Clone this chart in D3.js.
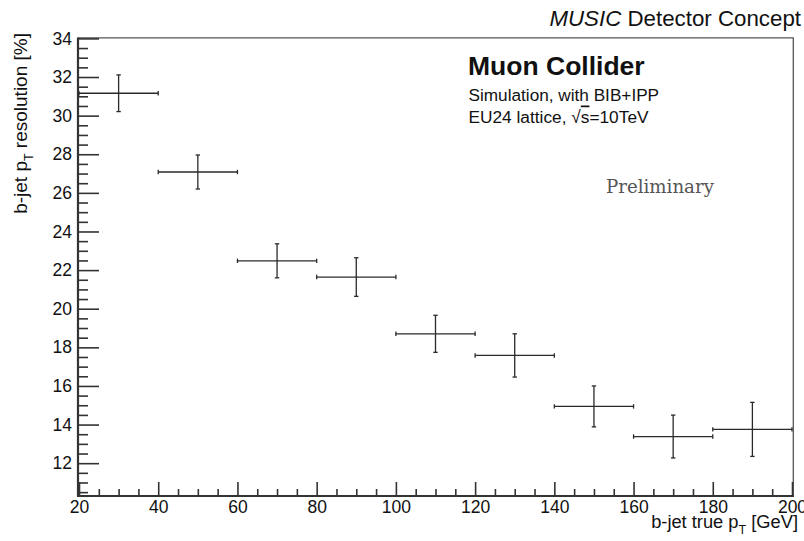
<!DOCTYPE html>
<html>
<head>
<meta charset="utf-8">
<script src="https://cdn.jsdelivr.net/npm/d3@7"></script>
<style>
  html, body { margin: 0; padding: 0; background: #fff; }
  svg { display: block; }
  text { font-family: "Liberation Sans", Arial, Helvetica, sans-serif; fill: #111; }
</style>
</head>
<body>
<svg id="chart" width="804" height="541"></svg>
<script>
// ---- data ----
const binCenters = [30, 50, 70, 90, 110, 130, 150, 170, 190];
const binHalfWidths = [10, 10, 10, 10, 10, 10, 10, 10, 10];
const resolution = [31.16, 27.08, 22.48, 21.64, 18.70, 17.58, 14.94, 13.38, 13.75];
const resolutionErr = [0.95, 0.88, 0.88, 1.00, 0.96, 1.12, 1.06, 1.11, 1.40];
const xMajorTicks = [20, 40, 60, 80, 100, 120, 140, 160, 180, 200];
const yMajorTicks = [12, 14, 16, 18, 20, 22, 24, 26, 28, 30, 32, 34];
const xDomain = [20, 200];
const yDomain = [10.3, 34];

// ---- layout ----
const svg = d3.select("#chart");
const L = 79, R = 792, T = 38.4, B = 496;
const x = d3.scaleLinear().domain(xDomain).range([L, R]);
const y = d3.scaleLinear().domain(yDomain).range([B, T]);

const xMinor = d3.range(25, 200, 5).filter(v => v % 20 !== 0);
const yMinor = d3.range(10.5, 34.01, 0.5).filter(v => !yMajorTicks.includes(v));

const axisColor = "#333";
const tickFont = "17.5px";

// frame (top & right)
svg.append("line").attr("x1", L - 1).attr("x2", R + 1.3).attr("y1", T - 0.6).attr("y2", T - 0.6)
  .attr("stroke", "#555").attr("stroke-width", 1.3);
svg.append("line").attr("x1", R + 1.3).attr("x2", R + 1.3).attr("y1", T - 1).attr("y2", B)
  .attr("stroke", "#555").attr("stroke-width", 1.3);

// y axis
const gy = svg.append("g").attr("transform", `translate(${L - 1},0)`);
gy.call(d3.axisLeft(y).tickValues(yMajorTicks).tickSize(-21).tickPadding(6).tickFormat(d3.format("d")));
const gyMinor = svg.append("g").attr("transform", `translate(${L - 1},0)`);
gyMinor.call(d3.axisLeft(y).tickValues(yMinor).tickSize(-10).tickFormat(""));
gyMinor.select(".domain").remove();

// x axis
const gx = svg.append("g").attr("transform", `translate(0,${B})`);
gx.call(d3.axisBottom(x).tickValues(xMajorTicks).tickSize(-14).tickPadding(5).tickFormat(d3.format("d")));
const gxMinor = svg.append("g").attr("transform", `translate(0,${B})`);
gxMinor.call(d3.axisBottom(x).tickValues(xMinor).tickSize(-7).tickFormat(""));
gxMinor.select(".domain").remove();

[gy, gyMinor, gx, gxMinor].forEach(g => {
  g.selectAll(".tick line").attr("stroke", axisColor).attr("stroke-width", 1.6);
  g.selectAll(".domain").attr("stroke", axisColor).attr("stroke-width", 2.2);
  g.selectAll(".tick text").style("font-family", '"Liberation Sans", Arial, sans-serif')
    .style("font-size", tickFont).attr("fill", "#111");
});
gy.selectAll(".domain").attr("d", `M0,${B}V${T - 1}`);
gx.selectAll(".domain").attr("d", `M${L - 2},0H${R + 2}`);

// ---- error-bar points ----
const pts = binCenters.map((c, i) => ({ c, hw: binHalfWidths[i], v: resolution[i], e: resolutionErr[i] }));
const cap = 2.2;
const gp = svg.append("g").attr("stroke", "#2a2a2a").attr("stroke-width", 1.3).attr("fill", "none");
pts.forEach(p => {
  const cx = x(p.c), cy = y(p.v);
  const x0 = x(p.c - p.hw), x1 = x(p.c + p.hw);
  const y0 = y(p.v - p.e), y1 = y(p.v + p.e);
  gp.append("line").attr("x1", x0).attr("x2", x1).attr("y1", cy).attr("y2", cy);
  gp.append("line").attr("x1", cx).attr("x2", cx).attr("y1", y0).attr("y2", y1);
  gp.append("line").attr("x1", x0).attr("x2", x0).attr("y1", cy - cap).attr("y2", cy + cap);
  gp.append("line").attr("x1", x1).attr("x2", x1).attr("y1", cy - cap).attr("y2", cy + cap);
  gp.append("line").attr("x1", cx - cap).attr("x2", cx + cap).attr("y1", y0).attr("y2", y0);
  gp.append("line").attr("x1", cx - cap).attr("x2", cx + cap).attr("y1", y1).attr("y2", y1);
});

// ---- texts ----
const headerText = svg.append("text").attr("x", 801).attr("y", 26).attr("text-anchor", "end")
  .style("font-size", "22.3px");
headerText.append("tspan").style("font-style", "italic").text("MUSIC");
headerText.append("tspan").text(" Detector Concept");

svg.append("text").attr("x", 468).attr("y", 75).style("font-size", "26.5px").style("font-weight", "bold")
  .attr("fill", "#000").text("Muon Collider");
svg.append("text").attr("x", 468.5).attr("y", 101).style("font-size", "17.2px").text("Simulation, with BIB+IPP");
const eu = svg.append("text").attr("x", 468.5).attr("y", 122.5).style("font-size", "17.3px");
eu.append("tspan").text("EU24 lattice, ");
eu.append("tspan").text("√");
eu.append("tspan").style("text-decoration", "overline").text("s");
eu.append("tspan").text("=10TeV");

svg.append("text").attr("x", 606).attr("y", 192.5).style("font-family", '"DejaVu Serif", serif')
  .style("font-size", "18.2px").style("fill", "#555").text("Preliminary");

// x label
const xl = svg.append("text").attr("x", 798).attr("y", 528).attr("text-anchor", "end").style("font-size", "18.3px");
xl.append("tspan").text("b-jet true p");
xl.append("tspan").attr("dy", 6).style("font-size", "12.5px").text("T");
xl.append("tspan").attr("dy", -6).text(" [GeV]");

// y label
const yl = svg.append("text").attr("transform", "translate(27,33) rotate(-90)")
  .attr("text-anchor", "end").style("font-size", "19px");
yl.append("tspan").text("b-jet p");
yl.append("tspan").attr("dy", 6).style("font-size", "12.5px").text("T");
yl.append("tspan").attr("dy", -6).text(" resolution [%]");
</script>
</body>
</html>
